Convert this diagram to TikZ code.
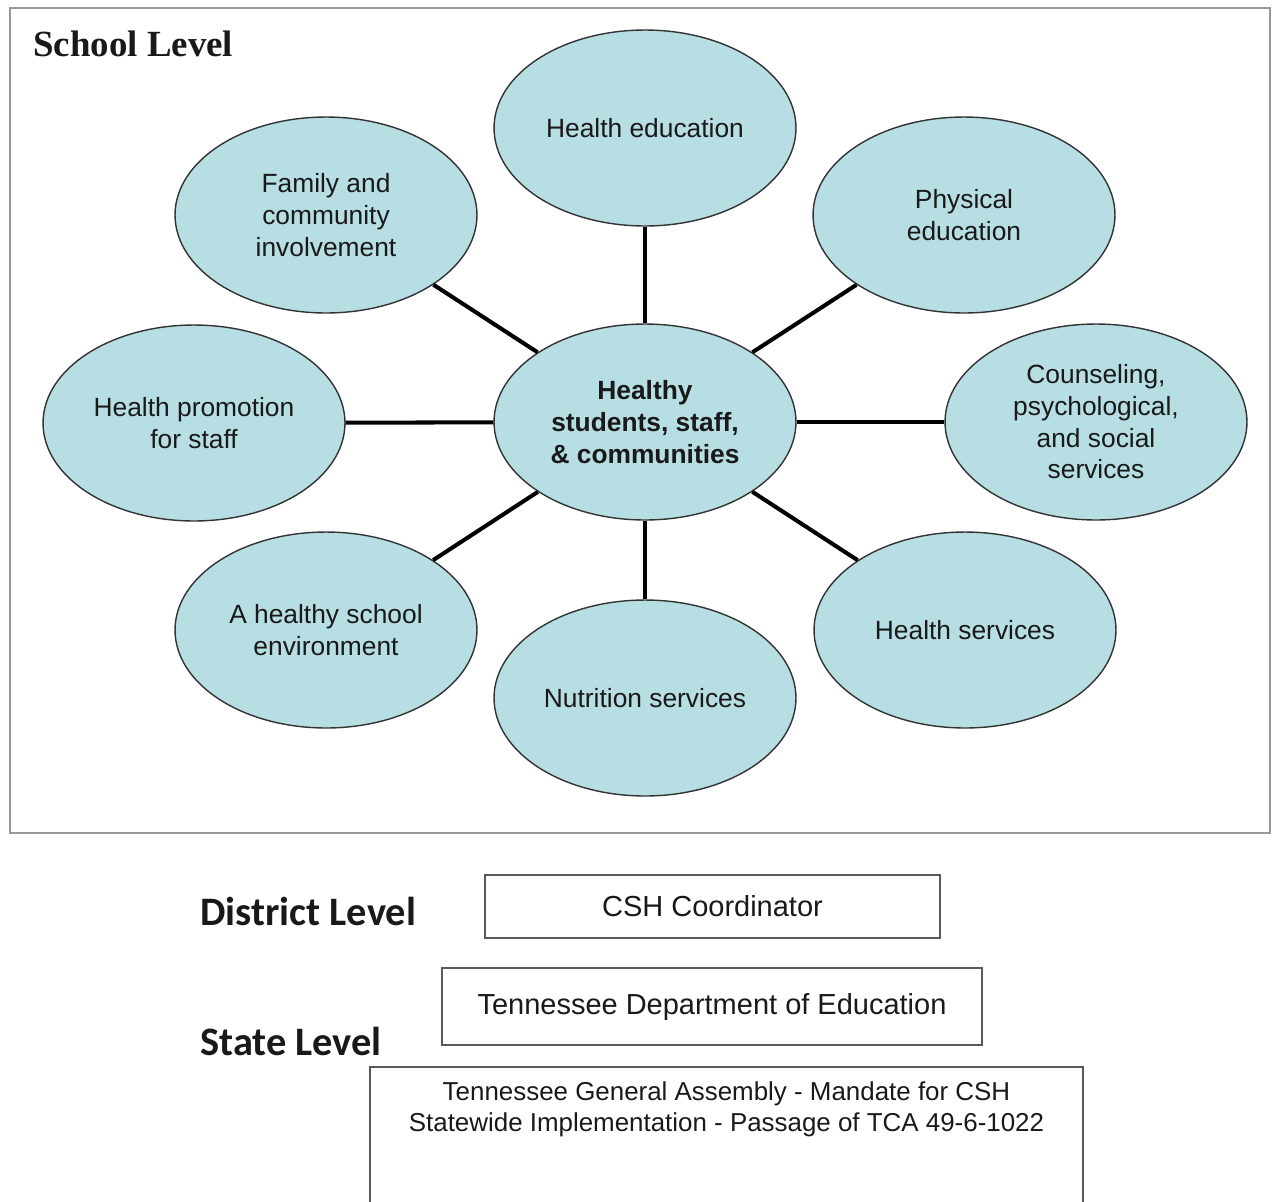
\documentclass[tikz,border=0pt]{standalone}
\usepackage{fontspec}
\setmainfont{Liberation Sans}
\newfontfamily\titlefont{Liberation Serif}
\newfontfamily\levelfont{Carlito}
\usetikzlibrary{shapes.geometric, positioning}
\definecolor{bubbleFill}{RGB}{183,222,226}
\definecolor{bubbleLine}{gray}{0.2}
\definecolor{frameGray}{gray}{0.6}
\definecolor{boxGray}{gray}{0.35}
\definecolor{mainBlack}{gray}{0.1}

\begin{document}
\begin{tikzpicture}[x=0.02cm, y=-0.02cm,
    bubble/.style={ellipse, draw=bubbleLine, line width=0.8pt, fill=bubbleFill,
        minimum width=6.04cm, minimum height=3.92cm, inner sep=0pt, align=center,
        text=mainBlack, font=\fontsize{15}{18}\selectfont},
    spoke/.style={line width=2.3pt, black},
    levelbox/.style={rectangle, draw=boxGray, line width=0.9pt, inner sep=0pt},
    boxtext/.style={inner sep=0pt, align=center, text=mainBlack, font=\fontsize{16.5}{18}\selectfont},
    levelname/.style={anchor=west, inner sep=0pt, text=mainBlack,
        font=\levelfont\bfseries\fontsize{23}{26}\selectfont}]
    \useasboundingbox (0,0) rectangle (1278,1201);

    % school level frame
    \draw[frameGray, line width=1.1pt] (10,8) rectangle (1270,833);
    \node[anchor=west, inner sep=0pt, text=mainBlack, font=\titlefont\bfseries\fontsize{21}{24}\selectfont]
        (school) at (33,44) {School Level};

    % hub and the eight components
    \node[bubble, font=\bfseries\fontsize{15}{18}\selectfont] (hub) at (645,422) {Healthy\\students, staff,\\\& communities};
    \node[bubble] (top)   at (645,128) {Health education};
    \node[bubble] (phys)  at (964,215) {Physical\\education};
    \node[bubble] (couns) at (1096,422) {Counseling,\\psychological,\\and social\\services};
    \node[bubble] (serv)  at (965,630) {Health services};
    \node[bubble] (nutr)  at (645,698) {Nutrition services};
    \node[bubble] (env)   at (326,630) {A healthy school\\environment};
    \node[bubble] (promo) at (194,423) {Health promotion\\for staff};
    \node[bubble] (fam)   at (326,215) {Family and\\community\\involvement};

    \foreach \b in {top, phys, couns, serv, nutr, env, promo, fam}
        \draw[spoke] (hub) -- (\b);

    % district and state levels
    \node[levelname] (district) at (200,911) {District Level};
    \node[levelname] (state) at (200,1041) {State Level};

    \node[levelbox, boxtext, minimum width=9.1cm, minimum height=1.26cm] (coord) at (712.5,906.5) {CSH Coordinator};
    \node[levelbox, boxtext, minimum width=10.8cm, minimum height=1.54cm] (dept) at (712,1006.5) {Tennessee Department of Education};
    \node[levelbox, minimum width=14.26cm, minimum height=2.86cm] (asm) at (726.5,1138.5) {};
    \node[boxtext, font=\fontsize{14.75}{18}\selectfont, below=0.3cm of asm.north] (asmtext)
        {Tennessee General Assembly - Mandate for CSH\\Statewide Implementation - Passage of TCA 49-6-1022};
\end{tikzpicture}
\end{document}
